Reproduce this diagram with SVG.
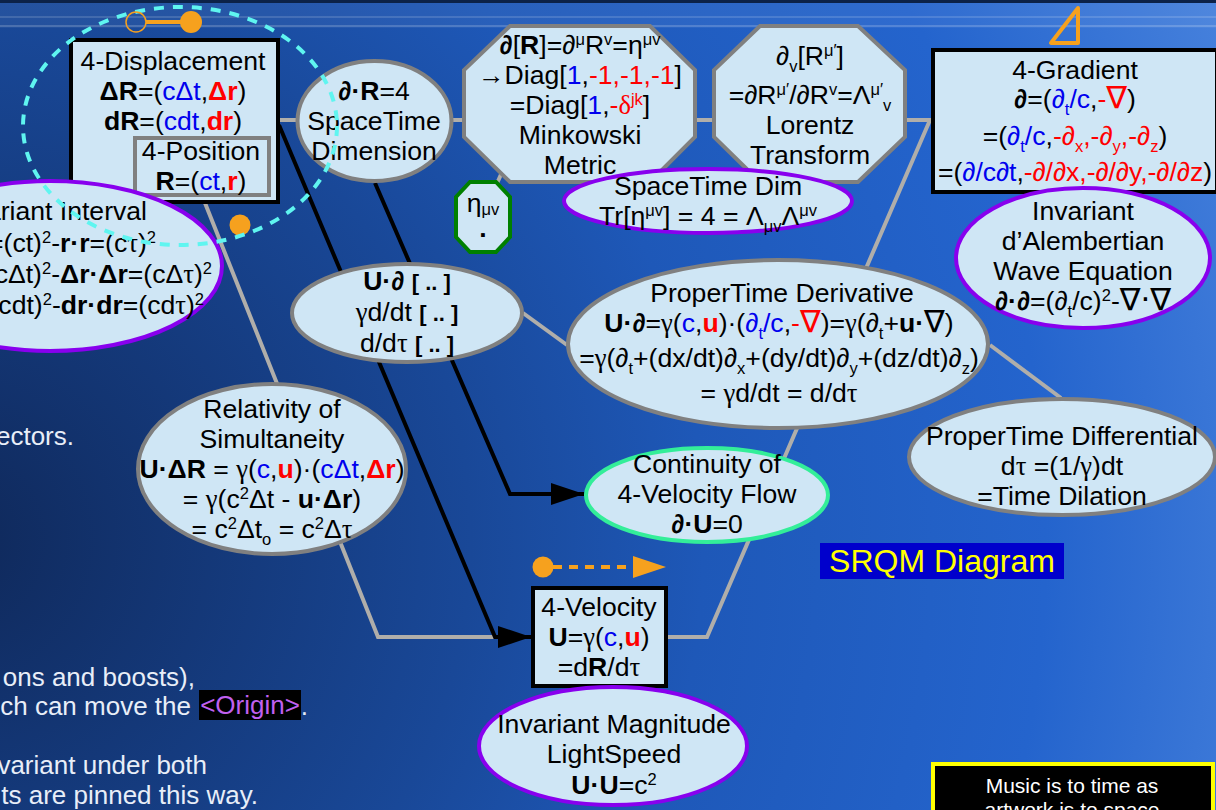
<svg xmlns="http://www.w3.org/2000/svg" width="1216" height="810" viewBox="0 0 1216 810">
<style>
text{font-family:"Liberation Sans",Arial,sans-serif;font-size:26.600px;fill:#000;text-anchor:middle}
.n{fill:#cfe6f5}
.g{stroke:#808080;stroke-width:4}
.k{stroke:#000;stroke-width:4}
.p{stroke:#8800ee;stroke-width:4}
.c{fill:none;stroke:#b0aeaa;stroke-width:4}
.b{fill:none;stroke:#000;stroke-width:4}
.bl{fill:#0000ee}
.r{fill:#ff0000}
.B{font-weight:bold}
.i{font-style:italic}
.s{font-family:"Liberation Serif","DejaVu Serif",serif}
.sup{font-size:16.500px;baseline-shift:9px}
.sub{font-size:16.500px;baseline-shift:-7px}
.nab{font-family:"DejaVu Sans",sans-serif;font-size:31px}
.w{fill:#e8eef8;text-anchor:end;font-size:26px}
.o{fill:#f6a11e}
.br{font-size:22px;font-weight:bold}
</style>
<defs>
<radialGradient id="bg" gradientUnits="userSpaceOnUse" cx="-50" cy="540" r="1370">
<stop offset="0" stop-color="#0f2859"/><stop offset=".38" stop-color="#194898"/><stop offset=".55" stop-color="#1e58b8"/><stop offset=".8" stop-color="#2464cd"/><stop offset="1" stop-color="#4580dc"/>
</radialGradient>
<marker id="ah" markerUnits="userSpaceOnUse" markerWidth="33" markerHeight="24" refX="33" refY="12" orient="auto"><path d="M0 1L33 12L0 23Z" fill="#000"/></marker>
</defs>
<rect width="1216" height="810" fill="url(#bg)"/>
<rect width="1216" height="3" fill="#0c2248"/>
<rect y="3" width="1216" height="25" fill="#fff" opacity=".05"/>
<rect y="16" width="1216" height="2" fill="#fff" opacity=".14"/>
<rect y="25" width="1216" height="2" fill="#fff" opacity=".18"/>

<g id="page-text">
<text class="w" x="74" y="445">ectors.</text>
<text class="w" x="195" y="686">ons and boosts),</text>
<text class="w" x="191" y="715">ch can move the</text>
<rect x="199" y="690" width="102" height="30" fill="#000"/>
<text x="250" y="714" style="font-size:26px;fill:#c060f0">&lt;Origin&gt;</text>
<text class="w" x="308" y="715">.</text>
<text class="w" x="207" y="774">variant under both</text>
<text class="w" x="258" y="804">ts are pinned this way.</text>
</g>

<g id="connectors">
<path class="c" d="M279 120H933"/>
<path class="c" d="M930 120L707 637H667"/>
<path class="c" d="M205 203L378 637H533"/>
<path class="c" d="M523 313L567 345"/>
<path class="c" d="M990 345L1061 398"/>
<path class="c" d="M503 170L494 190"/>
<path class="b" d="M279 125L495 637H531" marker-end="url(#ah)"/>
<path class="b" d="M375 183L510 494H584" marker-end="url(#ah)"/>
</g>

<g id="displacement">
<rect class="n k" x="71" y="40" width="207" height="162"/>
<text x="173" y="70">4-Displacement</text>
<text x="173" y="100"><tspan class="B">ΔR</tspan>=(<tspan class="bl">cΔt</tspan>,<tspan class="r B">Δr</tspan>)</text>
<text x="173" y="130"><tspan class="B">dR</tspan>=(<tspan class="bl">cdt</tspan>,<tspan class="r B">dr</tspan>)</text>
</g>
<g id="position">
<rect class="n g" x="135" y="138" width="134" height="57"/>
<text x="201" y="160">4-Position</text>
<text x="201" y="190"><tspan class="B">R</tspan>=(<tspan class="bl">ct</tspan>,<tspan class="r B">r</tspan>)</text>
</g>

<g id="interval">
<ellipse class="n p" cx="50" cy="266" rx="172" ry="85"/>
<text x="147" y="220" style="text-anchor:end">ariant Interval</text>
<text x="156" y="252" style="text-anchor:end">=(ct)<tspan class="sup">2</tspan>-<tspan class="B">r·r</tspan>=(c<tspan class="s">τ</tspan>)<tspan class="sup">2</tspan></text>
<text x="212" y="283" style="text-anchor:end">cΔt)<tspan class="sup">2</tspan>-<tspan class="B">Δr·Δr</tspan>=(cΔ<tspan class="s">τ</tspan>)<tspan class="sup">2</tspan></text>
<text x="204" y="314" style="text-anchor:end">cdt)<tspan class="sup">2</tspan>-<tspan class="B">dr·dr</tspan>=(cd<tspan class="s">τ</tspan>)<tspan class="sup">2</tspan></text>
</g>

<g id="dim">
<ellipse class="n g" cx="374.500" cy="121" rx="77" ry="60"/>
<text x="374" y="100"><tspan class="B i">∂</tspan><tspan class="B">·R</tspan>=4</text>
<text x="374" y="130">SpaceTime</text>
<text x="374" y="160">Dimension</text>
</g>

<g id="minkowski">
<polygon class="n g" points="510,26 650,26 695,70 695,137 650,182 510,182 464,137 464,70"/>
<text x="580" y="54"><tspan class="B i">∂</tspan>[<tspan class="B">R</tspan>]=<tspan class="i">∂</tspan><tspan class="sup">μ</tspan>R<tspan class="sup">v</tspan>=η<tspan class="sup">μv</tspan></text>
<text x="580" y="84">→Diag[<tspan class="bl">1</tspan>,<tspan class="r">-1,-1,-1</tspan>]</text>
<text x="580" y="114">=Diag[<tspan class="bl">1</tspan>,<tspan class="r">-<tspan class="s">δ</tspan><tspan class="sup">jk</tspan></tspan>]</text>
<text x="580" y="144">Minkowski</text>
<text x="580" y="174">Metric</text>
</g>

<g id="lorentz">
<polygon class="n g" points="760,26 858,26 905,70 905,137 858,182 760,182 714,137 714,70"/>
<text x="810" y="65"><tspan class="i">∂</tspan><tspan class="sub">v</tspan>[R<tspan class="sup">μ′</tspan>]</text>
<text x="810" y="104">=<tspan class="i">∂</tspan>R<tspan class="sup">μ′</tspan>/<tspan class="i">∂</tspan>R<tspan class="sup">v</tspan>=Λ<tspan class="sup">μ′</tspan><tspan class="sub">v</tspan></text>
<text x="810" y="134">Lorentz</text>
<text x="810" y="164">Transform</text>
</g>

<g id="eta">
<polygon points="470,182 496,182 510,197 510,237 496,252 470,252 456,237 456,197" class="n" stroke="#008000" stroke-width="4"/>
<text x="483" y="212">η<tspan class="sub" style="baseline-shift:-3px">μv</tspan></text>
<text x="483" y="237" class="B">.</text>
</g>

<g id="trace">
<ellipse class="n p" cx="708" cy="201" rx="144" ry="32"/>
<text x="708" y="195">SpaceTime Dim</text>
<text x="708" y="225">Tr[η<tspan class="sup">μv</tspan>] = 4 = Λ<tspan class="sub">μv</tspan>Λ<tspan class="sup">μv</tspan></text>
</g>

<g id="gradient">
<rect class="n k" x="933" y="50" width="284" height="142"/>
<text x="1075" y="79">4-Gradient</text>
<text x="1075" y="108"><tspan class="B i">∂</tspan>=(<tspan class="bl"><tspan class="i">∂</tspan><tspan class="sub">t</tspan>/c</tspan>,<tspan class="r">-<tspan class="nab">∇</tspan></tspan>)</text>
<text x="1075" y="145">=(<tspan class="bl"><tspan class="i">∂</tspan><tspan class="sub">t</tspan>/c</tspan>,<tspan class="r">-<tspan class="i">∂</tspan><tspan class="sub">x</tspan>,-<tspan class="i">∂</tspan><tspan class="sub">y</tspan>,-<tspan class="i">∂</tspan><tspan class="sub">z</tspan></tspan>)</text>
<text x="1075" y="181" textLength="274" lengthAdjust="spacing">=(<tspan class="bl"><tspan class="i">∂</tspan>/c<tspan class="i">∂</tspan>t</tspan>,<tspan class="r">-<tspan class="i">∂</tspan>/<tspan class="i">∂</tspan>x,-<tspan class="i">∂</tspan>/<tspan class="i">∂</tspan>y,-<tspan class="i">∂</tspan>/<tspan class="i">∂</tspan>z</tspan>)</text>
</g>

<g id="alembertian">
<ellipse class="n p" cx="1083" cy="258" rx="127" ry="70"/>
<text x="1083" y="220">Invariant</text>
<text x="1083" y="250">d’Alembertian</text>
<text x="1083" y="280">Wave Equation</text>
<text x="1083" y="310"><tspan class="B i">∂</tspan><tspan class="B">·</tspan><tspan class="B i">∂</tspan>=(<tspan class="i">∂</tspan><tspan class="sub">t</tspan>/c)<tspan class="sup">2</tspan>-<tspan class="nab">∇·∇</tspan></text>
</g>

<g id="ud">
<ellipse class="n g" cx="407" cy="313" rx="115" ry="49"/>
<text x="407" y="290"><tspan class="B">U·</tspan><tspan class="B i">∂</tspan> <tspan class="br">[ .. ]</tspan></text>
<text x="407" y="321"><tspan class="s">γ</tspan>d/dt <tspan class="br">[ .. ]</tspan></text>
<text x="407" y="352">d/d<tspan class="s">τ</tspan> <tspan class="br">[ .. ]</tspan></text>
</g>

<g id="propertime">
<ellipse class="n g" cx="778" cy="344" rx="210" ry="84"/>
<text x="782" y="302">ProperTime Derivative</text>
<text x="779" y="332"><tspan class="B">U·</tspan><tspan class="B i">∂</tspan>=<tspan class="s">γ</tspan>(<tspan class="bl">c</tspan>,<tspan class="r B">u</tspan>)·(<tspan class="bl"><tspan class="i">∂</tspan><tspan class="sub">t</tspan>/c</tspan>,<tspan class="r">-<tspan class="nab">∇</tspan></tspan>)=<tspan class="s">γ</tspan>(<tspan class="i">∂</tspan><tspan class="sub">t</tspan>+<tspan class="B">u·</tspan><tspan class="nab">∇</tspan>)</text>
<text x="779" y="367">=<tspan class="s">γ</tspan>(<tspan class="i">∂</tspan><tspan class="sub">t</tspan>+(dx/dt)<tspan class="i">∂</tspan><tspan class="sub">x</tspan>+(dy/dt)<tspan class="i">∂</tspan><tspan class="sub">y</tspan>+(dz/dt)<tspan class="i">∂</tspan><tspan class="sub">z</tspan>)</text>
<text x="779" y="402">= <tspan class="s">γ</tspan>d/dt = d/d<tspan class="s">τ</tspan></text>
</g>

<g id="differential">
<ellipse class="n g" cx="1062" cy="457" rx="153" ry="58"/>
<text x="1062" y="445">ProperTime Differential</text>
<text x="1062" y="475">d<tspan class="s">τ</tspan> =(1/<tspan class="s">γ</tspan>)dt</text>
<text x="1062" y="505">=Time Dilation</text>
</g>

<g id="relativity">
<ellipse class="n g" cx="272" cy="469" rx="134" ry="85"/>
<text x="272" y="418">Relativity of</text>
<text x="272" y="448">Simultaneity</text>
<text x="272" y="478"><tspan class="B">U·ΔR</tspan> = <tspan class="s">γ</tspan>(<tspan class="bl">c</tspan>,<tspan class="r B">u</tspan>)·(<tspan class="bl">cΔt</tspan>,<tspan class="r B">Δr</tspan>)</text>
<text x="272" y="508">= <tspan class="s">γ</tspan>(c<tspan class="sup">2</tspan>Δt - <tspan class="B">u·Δr</tspan>)</text>
<text x="272" y="538">= c<tspan class="sup">2</tspan>Δt<tspan class="sub">o</tspan> = c<tspan class="sup">2</tspan>Δ<tspan class="s">τ</tspan></text>
</g>

<g id="continuity">
<ellipse class="n" cx="707" cy="495" rx="121" ry="47" stroke="#33ee99" stroke-width="4"/>
<text x="707" y="473">Continuity of</text>
<text x="707" y="503">4-Velocity Flow</text>
<text x="707" y="533"><tspan class="B i">∂</tspan><tspan class="B">·U</tspan>=0</text>
</g>

<g id="velocity">
<rect class="n k" x="533" y="588" width="133" height="98"/>
<text x="599" y="616">4-Velocity</text>
<text x="599" y="646"><tspan class="B">U</tspan>=<tspan class="s">γ</tspan>(<tspan class="bl">c</tspan>,<tspan class="r B">u</tspan>)</text>
<text x="599" y="676">=d<tspan class="B">R</tspan>/d<tspan class="s">τ</tspan></text>
</g>

<g id="magnitude">
<ellipse class="n p" cx="613" cy="746" rx="134" ry="59"/>
<text x="614" y="733">Invariant Magnitude</text>
<text x="614" y="763">LightSpeed</text>
<text x="614" y="794"><tspan class="B">U·U</tspan>=c<tspan class="sup">2</tspan></text>
</g>

<g id="srqm">
<rect x="820" y="543" width="244" height="36" fill="#0000cc"/>
<text x="942" y="572" style="font-size:32px;fill:#ffff00">SRQM Diagram</text>
</g>

<g id="music">
<rect x="933" y="764" width="280" height="60" fill="#000" stroke="#ffff00" stroke-width="4"/>
<text x="1072" y="793" style="font-size:21px;fill:#fff">Music is to time as</text>
<text x="1072" y="817" style="font-size:21px;fill:#fff">artwork is to space</text>
</g>

<g id="glyphs">
<circle class="o" cx="240" cy="225" r="10.500"/>
<ellipse cx="180" cy="126" rx="157" ry="119" fill="none" stroke="#5ff5f0" stroke-width="4" stroke-dasharray="10 9"/>
<circle cx="136" cy="22" r="10" fill="none" stroke="#f6a11e" stroke-width="1.500"/>
<path d="M146 22H191" stroke="#f6a11e" stroke-width="4"/>
<circle class="o" cx="191" cy="22" r="11"/>
<path d="M1051 43H1078V8Z" fill="none" stroke="#f6a11e" stroke-width="4" stroke-linejoin="round"/>
<circle class="o" cx="543" cy="567" r="10.500"/>
<path d="M553 567H634" stroke="#f6a11e" stroke-width="4" stroke-dasharray="9 7"/>
<path d="M633 556L666 567L633 578Z" class="o"/>
</g>
</svg>
